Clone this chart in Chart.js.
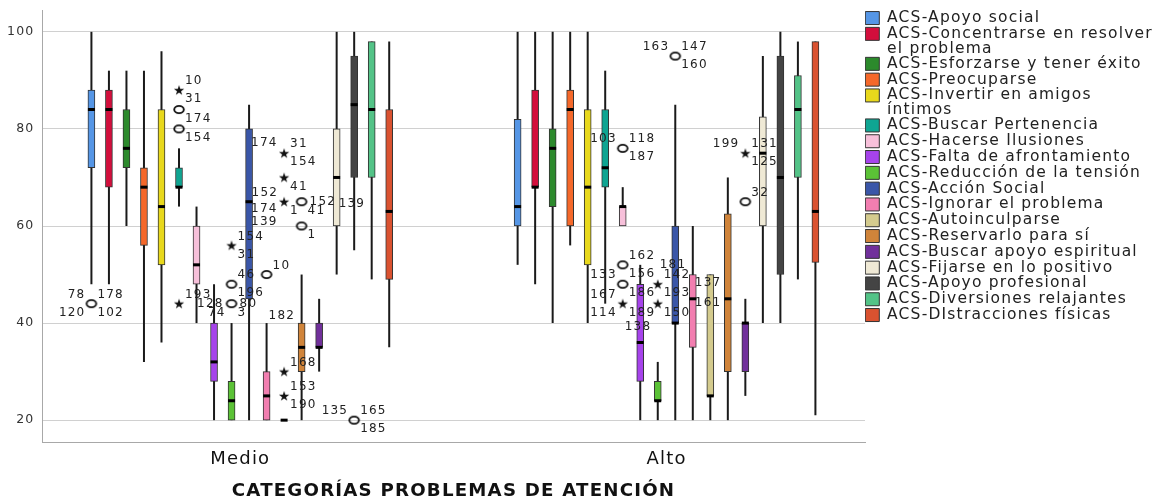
<!DOCTYPE html>
<html lang="es">
<head>
<meta charset="utf-8">
<title>ACS por categorías de problemas de atención</title>
<script src="https://cdn.jsdelivr.net/npm/chart.js@4.4.1/dist/chart.umd.min.js"></script>
<style>
  html, body { margin: 0; padding: 0; background: #fff; }
  #wrap { width: 1153px; height: 498px; position: relative; }
</style>
</head>
<body>
<div id="wrap"><canvas id="boxplot"></canvas></div>
<script>
// Boxplot: escalas ACS por categoría de problemas de atención (Medio / Alto)

const categories = ['Medio', 'Alto'];
const yTicks = [20, 40, 60, 80, 100];

const seriesNames = [
  'ACS-Apoyo social',
  ['ACS-Concentrarse en resolver', 'el problema'],
  'ACS-Esforzarse y tener éxito',
  'ACS-Preocuparse',
  ['ACS-Invertir en amigos', 'íntimos'],
  'ACS-Buscar Pertenencia',
  'ACS-Hacerse Ilusiones',
  'ACS-Falta de afrontamiento',
  'ACS-Reducción de la tensión',
  'ACS-Acción Social',
  'ACS-Ignorar el problema',
  'ACS-Autoinculparse',
  'ACS-Reservarlo para sí',
  'ACS-Buscar apoyo espiritual',
  'ACS-Fijarse en lo positivo',
  'ACS-Apoyo profesional',
  'ACS-Diversiones relajantes',
  'ACS-DIstracciones físicas'
];

const seriesColors = [
  '#5596e6', '#d30e3c', '#2c8a2c', '#f5682a', '#e8d81c', '#0fa592',
  '#f7c0da', '#a643eb', '#5bc236', '#3a56a8', '#f27eb0', '#d4cb8e',
  '#d0843a', '#71309b', '#efe9d5', '#444444', '#53c387', '#da5230'
];

// Medio
const medioLow    = [48, 48, 60, 32, 36, 64, 40, 20, 20, 20, 20, 20, 20, 30, 50, 55, 49, 35];
const medioQ1     = [72, 68, 72, 56, 52, 68, 48, 28, 20, 45, 20, 20, 30, 35, 60, 70, 70, 49];
const medioMedian = [84, 84, 76, 68, 64, 68, 52, 32, 24, 65, 25, 20, 35, 35, 70, 85, 84, 63];
const medioQ3     = [88, 88, 84, 72, 84, 72, 60, 40, 28, 80, 30, 20, 40, 40, 80, 95, 98, 84];
const medioHigh   = [100, 92, 92, 92, 96, 76, 64, 48, 40, 85, 40, 20, 50, 45, 100, 100, 98, 98];

// Alto
const altoLow    = [52, 48, 40, 56, 40, 44, 60, 20, 20, 20, 20, 20, 20, 25, 40, 40, 49, 21];
const altoQ1     = [60, 68, 64, 60, 52, 68, 60, 28, 24, 40, 35, 25, 30, 30, 60, 50, 70, 52.5];
const altoMedian = [64, 68, 76, 84, 68, 72, 64, 36, 24, 40, 45, 25, 45, 40, 75, 70, 84, 63];
const altoQ3     = [82, 88, 80, 88, 84, 84, 64, 48, 28, 60, 50, 50, 62.5, 40, 82.5, 95, 91, 98];
const altoHigh   = [100, 100, 100, 100, 100, 92, 68, 52, 32, 85, 60, 50, 70, 45, 95, 100, 98, 98];

// atípicos: [serie, valor, marca ('o' círculo, '*' extremo, '' caso sin marca visible), nº de caso]
const medioOutliers = [
  [0, 44, 'o', ['178', '102', '78', '120']],
  [5, 88, '*', ['10', '31']],
  [5, 84, 'o', ['174']],
  [5, 80, 'o', ['154']],
  [5, 44, '*', ['193']],
  [8, 56, '*', ['154', '31']],
  [8, 48, 'o', ['196', '46']],
  [8, 44, 'o', ['3', '74', '80', '128']],
  [9, 77.1, '', ['174']],
  [9, 63.5, '', ['174']],
  [9, 60.8, '', ['139']],
  [10, 50, 'o', ['10']],
  [10, 41.4, '', ['182']],
  [11, 75, '*', ['31', '154']],
  [11, 70, '*', ['41']],
  [11, 65, '*', ['1', '152']],
  [11, 30, '*', ['168']],
  [11, 25, '*', ['153', '190']],
  [12, 65, 'o', ['41', '152']],
  [12, 60, 'o', ['1']],
  [14, 64.5, '', ['139']],
  [15, 20, 'o', ['165', '185', '135']]
];

const altoOutliers = [
  [6, 76, 'o', ['118', '187', '103']],
  [6, 52, 'o', ['162', '156']],
  [6, 48, 'o', ['186', '133']],
  [6, 44, '*', ['189', '167', '114']],
  [6, 39.2, '', ['138']],
  [8, 52, '', ['181']],
  [8, 48, '*', ['142', '193']],
  [8, 44, '*', ['150']],
  [9, 95, 'o', ['147', '160', '163']],
  [10, 48.2, '', ['137']],
  [10, 44.1, '', ['161']],
  [13, 75, '*', ['131', '125', '199']],
  [13, 65, 'o', ['32']]
];

const stats = [
  { low: medioLow, q1: medioQ1, median: medioMedian, q3: medioQ3, high: medioHigh, outliers: medioOutliers },
  { low: altoLow, q1: altoQ1, median: altoMedian, q3: altoQ3, high: altoHigh, outliers: altoOutliers }
];

const BOX_STEP = 0.0411; // separación entre cajas dentro de una categoría (unidades del eje x)
const LETTER_SPACING = '1.2px';

function boxX(catIndex, seriesIndex) {
  return catIndex + 1 + (seriesIndex - (seriesNames.length - 1) / 2) * BOX_STEP;
}

function makeStar() {
  const c = document.createElement('canvas');
  c.width = 12; c.height = 12;
  const g = c.getContext('2d');
  g.beginPath();
  for (let k = 0; k < 10; k++) {
    const r = k % 2 ? 2.1 : 5.4;
    const a = -Math.PI / 2 + k * Math.PI / 5;
    g.lineTo(6 + r * Math.cos(a), 6.5 + r * Math.sin(a));
  }
  g.closePath();
  g.fillStyle = '#111';
  g.fill();
  return c;
}

function makeRing() {
  const c = document.createElement('canvas');
  c.width = 14; c.height = 11;
  const g = c.getContext('2d');
  g.beginPath();
  g.ellipse(7, 5.5, 4.8, 3.6, 0, 0, Math.PI * 2);
  g.lineWidth = 1.9;
  g.strokeStyle = '#111';
  g.stroke();
  return c;
}

const boxDatasets = seriesNames.map((name, i) => ({
  label: name,
  data: stats.map((s, ci) => ({
    x: boxX(ci, i),
    y: [s.q1[i], s.q3[i]],
    low: s.low[i],
    median: s.median[i],
    high: s.high[i]
  })),
  backgroundColor: seriesColors[i],
  borderColor: '#333',
  borderWidth: 1,
  borderSkipped: false,
  grouped: false,
  barThickness: 7,
  isBox: true
}));

function outlierPoints(kind) {
  const pts = [];
  stats.forEach((s, ci) => {
    s.outliers.forEach(([si, v, k]) => {
      if (k === kind) pts.push({ x: boxX(ci, si), y: v });
    });
  });
  return pts;
}

const circleSet = {
  type: 'scatter', label: 'atípicos', data: outlierPoints('o'),
  pointStyle: makeRing(), pointRadius: 5
};
const starSet = {
  type: 'scatter', label: 'extremos', data: outlierPoints('*'),
  pointStyle: makeStar(), pointRadius: 5
};

// separación de letras como en la salida de SPSS
const spacingPlugin = {
  id: 'spacing',
  beforeUpdate(chart) { chart.ctx.letterSpacing = LETTER_SPACING; },
  beforeDraw(chart) { chart.ctx.letterSpacing = LETTER_SPACING; }
};

// sitios posibles para el nº de caso alrededor de la marca, en orden de preferencia
const LABEL_SPOTS = [
  { dx: 6, dy: -9, align: 'left' },
  { dx: 6, dy: 9, align: 'left' },
  { dx: -6, dy: -9, align: 'right' },
  { dx: -6, dy: 9, align: 'right' },
  { dx: 8, dy: 0, align: 'left' },
  { dx: -8, dy: 0, align: 'right' },
  { dx: 0, dy: 13, align: 'center' },
  { dx: 0, dy: -13, align: 'center' }
];

function drawCaseLabels(chart) {
  const { ctx } = chart;
  const xs = chart.scales.x;
  const ys = chart.scales.y;
  const taken = [];
  const hits = (r) => taken.some((t) => r.x0 < t.x1 && r.x1 > t.x0 && r.y0 < t.y1 && r.y1 > t.y0);
  const rectFor = (px, py, spot, w) => {
    const ax = px + spot.dx;
    const x0 = spot.align === 'left' ? ax : spot.align === 'right' ? ax - w : ax - w / 2;
    return { x0, x1: x0 + w, y0: py + spot.dy - 4.5, y1: py + spot.dy + 4.5, ax, ay: py + spot.dy, align: spot.align };
  };

  const items = [];
  stats.forEach((s, ci) => {
    s.outliers.forEach(([si, v, kind, labels]) => {
      const px = xs.getPixelForValue(boxX(ci, si));
      const py = ys.getPixelForValue(v);
      items.push({ px, py, kind, labels });
      if (kind) taken.push({ x0: px - 5, x1: px + 5, y0: py - 4, y1: py + 4 });
    });
  });

  ctx.save();
  ctx.font = '12px "DejaVu Sans"';
  ctx.fillStyle = '#222';
  ctx.textBaseline = 'middle';

  items.filter((it) => !it.kind).forEach((it) => {
    it.labels.forEach((txt) => {
      const w = ctx.measureText(txt).width;
      ctx.textAlign = 'left';
      ctx.fillText(txt, it.px + 2, it.py);
      taken.push({ x0: it.px + 2, x1: it.px + 2 + w, y0: it.py - 4.5, y1: it.py + 4.5 });
    });
  });

  items.filter((it) => it.kind).forEach((it) => {
    it.labels.forEach((txt) => {
      const w = ctx.measureText(txt).width;
      let r = null;
      for (const spot of LABEL_SPOTS) {
        const cand = rectFor(it.px, it.py, spot, w);
        if (!hits(cand)) { r = cand; break; }
      }
      if (!r) r = rectFor(it.px, it.py, LABEL_SPOTS[0], w);
      taken.push(r);
      ctx.textAlign = r.align;
      ctx.fillText(txt, r.ax, r.ay);
    });
  });
  ctx.restore();
}

const boxParts = {
  id: 'boxParts',
  beforeDatasetsDraw(chart) {
    const { ctx } = chart;
    const y = chart.scales.y;
    ctx.save();
    ctx.strokeStyle = '#1a1a1a';
    ctx.lineWidth = 2;
    chart.data.datasets.forEach((ds, d) => {
      if (!ds.isBox) return;
      chart.getDatasetMeta(d).data.forEach((bar, j) => {
        const item = ds.data[j];
        ctx.beginPath();
        ctx.moveTo(bar.x, y.getPixelForValue(item.low));
        ctx.lineTo(bar.x, y.getPixelForValue(item.high));
        ctx.stroke();
      });
    });
    ctx.restore();
  },
  afterDatasetsDraw(chart) {
    const { ctx } = chart;
    const y = chart.scales.y;
    ctx.save();
    ctx.fillStyle = '#000';
    chart.data.datasets.forEach((ds, d) => {
      if (!ds.isBox) return;
      chart.getDatasetMeta(d).data.forEach((bar, j) => {
        const py = y.getPixelForValue(ds.data[j].median);
        ctx.fillRect(bar.x - bar.width / 2, py - 1.5, bar.width, 3);
      });
    });
    ctx.restore();
    drawCaseLabels(chart);
  }
};

new Chart(document.getElementById('boxplot'), {
  type: 'bar',
  data: { datasets: [...boxDatasets, circleSet, starSet] },
  options: {
    responsive: true,
    maintainAspectRatio: false,
    animation: false,
    layout: { padding: { top: 10, right: 0, bottom: 0, left: 0 } },
    plugins: {
      tooltip: { enabled: false },
      legend: {
        position: 'right',
        align: 'start',
        maxWidth: 288,
        labels: {
          filter: (item) => item.datasetIndex < seriesNames.length,
          boxWidth: 14,
          boxHeight: 13,
          padding: 0.3,
          color: '#222',
          font: { family: 'DejaVu Sans', size: 15.5, lineHeight: 0.958 }
        }
      }
    },
    scales: {
      x: {
        type: 'linear',
        offset: false,
        min: 0.5347,
        max: 2.4657,
        grid: { display: false },
        border: { display: true, color: '#a8a8a8' },
        afterBuildTicks: (scale) => { scale.ticks = categories.map((c, i) => ({ value: i + 1 })); },
        afterFit: (scale) => { scale.height = 56; },
        ticks: {
          callback: (value, index) => categories[index],
          autoSkip: false,
          maxRotation: 0,
          padding: -1,
          color: '#111',
          font: { family: 'DejaVu Sans', size: 18 }
        },
        title: {
          display: true,
          text: 'CATEGORÍAS PROBLEMAS DE ATENCIÓN',
          color: '#111',
          padding: { top: 0, bottom: 0 },
          font: { family: 'DejaVu Sans', size: 18.2, weight: 'bold', lineHeight: 0.75 }
        }
      },
      y: {
        min: 15.5,
        max: 104.5,
        afterBuildTicks: (scale) => { scale.ticks = yTicks.map((v) => ({ value: v })); },
        afterFit: (scale) => {
          scale.width = 42;
          scale.paddingTop = 0;
          scale.paddingBottom = 0;
        },
        grid: { color: '#d0d0d0', drawTicks: false },
        border: { color: '#a8a8a8' },
        ticks: {
          padding: 7.5,
          color: '#333',
          font: { family: 'DejaVu Sans', size: 12.5 }
        }
      }
    }
  },
  plugins: [spacingPlugin, boxParts]
});
</script>
</body>
</html>
